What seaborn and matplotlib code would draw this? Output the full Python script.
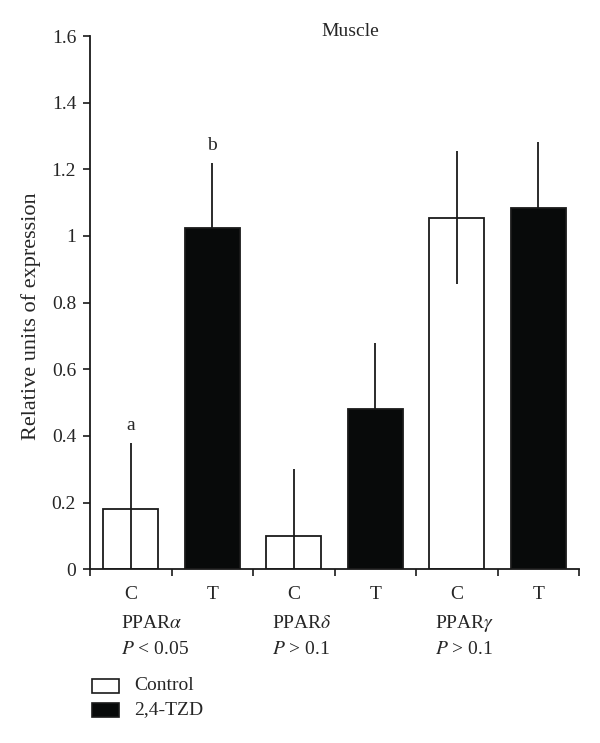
import numpy as np
import pandas as pd
import matplotlib
matplotlib.use("Agg")
import matplotlib.pyplot as plt
import seaborn as sns
from matplotlib.patches import Rectangle

# data
genes = ["PPARα", "PPARα", "PPARδ", "PPARδ", "PPARγ", "PPARγ"]
groups = ["Control", "2,4-TZD", "Control", "2,4-TZD", "Control", "2,4-TZD"]
bar_ids = ["a_C", "a_T", "d_C", "d_T", "g_C", "g_T"]
tick_labels = ["C", "T", "C", "T", "C", "T"]
means = [0.18, 1.025, 0.10, 0.48, 1.055, 1.085]
sds = [0.20, 0.195, 0.20, 0.20, 0.20, 0.198]
letters = ["a", "b", "", "", "", ""]
gene_labels = ["PPAR$\\alpha$", "PPAR$\\delta$", "PPAR$\\gamma$"]
p_labels = ["$P$ < 0.05", "$P$ > 0.1", "$P$ > 0.1"]

df = pd.DataFrame({"bar": bar_ids, "gene": genes, "group": groups,
                   "mean": means, "sd": sds})
df["x"] = np.arange(len(df))

sns.set_style("ticks")
plt.rcParams["font.family"] = ["Liberation Serif", "DejaVu Serif"]
plt.rcParams["mathtext.fontset"] = "stix"
FS = 14
INK = "#1a1a1a"
BLACK = "#080a0a"

fig = plt.figure(figsize=(6, 7.43), dpi=100)
ax = fig.add_axes([0.15, 0.234, 0.815, 0.7175])

sns.barplot(data=df, x="bar", y="mean", hue="group",
            palette={"Control": "white", "2,4-TZD": BLACK},
            dodge=False, width=0.68, edgecolor=INK, linewidth=1.3,
            errorbar=None, legend=False, ax=ax)

# error bars: drawn over the white bars, behind the black ones
for name, z in [("Control", 5), ("2,4-TZD", 0.5)]:
    sub = df[df["group"] == name]
    lower = np.minimum(sub["sd"], sub["mean"])
    ax.errorbar(sub["x"], sub["mean"], yerr=[lower, sub["sd"]], fmt="none",
                ecolor=INK, elinewidth=1.3, capsize=0, zorder=z)

for xi, m, s, lab in zip(df["x"], means, sds, letters):
    if lab:
        ax.text(xi, m + s + 0.05, lab, ha="center", va="center", fontsize=FS)

ax.set_xlim(-0.5, 5.5)
ax.set_ylim(0, 1.6)
ax.set_yticks(np.arange(0, 1.61, 0.2))
ax.set_yticklabels(["0", "0.2", "0.4", "0.6", "0.8", "1", "1.2", "1.4", "1.6"])
ax.set_xticks(df["x"])
ax.set_xticklabels(tick_labels)
ax.set_xticks(np.arange(-0.5, 5.6, 1), minor=True)
ax.tick_params(axis="x", which="major", length=0, pad=12, labelsize=FS)
ax.tick_params(axis="x", which="minor", length=5, width=1.2, direction="out",
               color=INK)
ax.tick_params(axis="y", length=5, width=1.2, labelsize=FS, pad=5, color=INK)
ax.set_xlabel("")
ax.set_ylabel("")
sns.despine(ax=ax)
for sp in ["left", "bottom"]:
    ax.spines[sp].set_linewidth(1.3)
    ax.spines[sp].set_color(INK)

fig.text(31 / 600, 1 - 316 / 743, "Relative units of expression",
         rotation=90, ha="center", va="center", fontsize=16)
fig.text(350 / 600, 1 - 31 / 743, "Muscle", ha="center", va="center",
         fontsize=FS)

# group labels below the axis
gene_x = [121, 272, 435]
for gx, gl, pl in zip(gene_x, gene_labels, p_labels):
    fig.text(gx / 600, 1 - 623 / 743, gl, ha="left", va="center", fontsize=FS)
    fig.text(gx / 600, 1 - 650 / 743, pl, ha="left", va="center", fontsize=FS)

# legend
for yc, fc, name in [(686, "white", "Control"), (710, BLACK, "2,4-TZD")]:
    fig.patches.append(Rectangle((92 / 600, 1 - (yc + 7) / 743), 27 / 600,
                                 14 / 743, transform=fig.transFigure,
                                 facecolor=fc, edgecolor=INK, linewidth=1.2))
    fig.text(134 / 600, 1 - yc / 743, name, ha="left", va="center", fontsize=FS)

fig.savefig("out.png", dpi=100)
